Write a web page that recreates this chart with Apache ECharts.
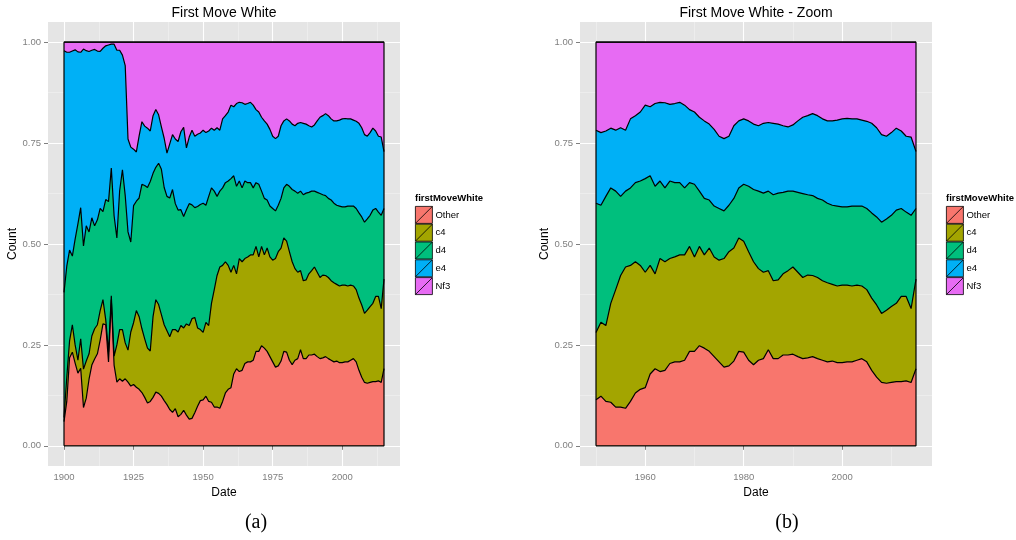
<!DOCTYPE html>
<html><head><meta charset="utf-8">
<script src="https://cdn.jsdelivr.net/npm/echarts@6/dist/echarts.min.js"></script>
<style>html,body{margin:0;padding:0;background:#fff}#c{width:1016px;height:540px}</style>
</head><body><div id="c"></div><script>
// ---- data (shares of games by White's first move; cumulative tops) ----
const firstYear = 1900;
const lastYear = 2015;
const zoomFromYear = 1950;
const categories = ['Other', 'c4', 'd4', 'e4', 'Nf3'];
const fills = ['#F8766D', '#A3A500', '#00BF7D', '#00B0F6', '#E76BF3'];

// top of "Other" band
const topOther = [
 0.060,0.110,0.218,0.232,0.205,0.180,0.192,0.095,0.118,0.165,
 0.200,0.215,0.228,0.262,0.302,0.300,0.208,0.362,0.200,0.158,
 0.166,0.160,0.166,0.158,0.148,0.152,0.145,0.140,0.132,0.120,
 0.106,0.110,0.120,0.133,0.130,0.123,0.112,0.102,0.090,0.083,
 0.092,0.072,0.078,0.088,0.076,0.066,0.068,0.082,0.098,0.112,
 0.114,0.123,0.110,0.108,0.096,0.096,0.093,0.110,0.131,0.140,
 0.144,0.178,0.191,0.184,0.187,0.204,0.208,0.208,0.212,0.234,
 0.234,0.248,0.242,0.234,0.221,0.208,0.195,0.198,0.210,0.234,
 0.232,0.212,0.201,0.212,0.216,0.238,0.216,0.216,0.225,0.225,
 0.227,0.221,0.216,0.218,0.221,0.216,0.212,0.208,0.210,0.206,
 0.206,0.208,0.208,0.212,0.216,0.208,0.187,0.170,0.157,0.155,
 0.157,0.159,0.159,0.161,0.157,0.191];
// top of "c4" band
const topC4 = [
 0.070,0.170,0.260,0.300,0.250,0.212,0.265,0.190,0.210,0.228,
 0.272,0.290,0.300,0.335,0.362,0.312,0.232,0.372,0.222,0.250,
 0.288,0.288,0.255,0.237,0.282,0.305,0.335,0.320,0.290,0.265,
 0.242,0.235,0.320,0.362,0.350,0.325,0.300,0.285,0.270,0.288,
 0.288,0.282,0.298,0.292,0.302,0.298,0.315,0.318,0.292,0.288,
 0.281,0.306,0.298,0.353,0.387,0.422,0.443,0.447,0.456,0.447,
 0.430,0.447,0.426,0.464,0.456,0.464,0.468,0.473,0.473,0.494,
 0.468,0.494,0.473,0.490,0.468,0.460,0.464,0.481,0.490,0.515,
 0.507,0.481,0.456,0.439,0.430,0.434,0.409,0.411,0.426,0.434,
 0.443,0.430,0.417,0.423,0.422,0.417,0.409,0.404,0.400,0.396,
 0.398,0.398,0.396,0.398,0.396,0.387,0.366,0.349,0.328,0.336,
 0.345,0.353,0.370,0.370,0.340,0.413];
// top of "d4" band
const topD4 = [
 0.380,0.445,0.485,0.470,0.512,0.550,0.590,0.495,0.545,0.530,
 0.565,0.545,0.560,0.588,0.580,0.610,0.605,0.688,0.570,0.515,
 0.632,0.684,0.620,0.530,0.505,0.595,0.606,0.614,0.648,0.645,
 0.640,0.655,0.675,0.690,0.700,0.685,0.640,0.618,0.614,0.635,
 0.600,0.584,0.585,0.568,0.585,0.600,0.597,0.590,0.593,0.598,
 0.601,0.596,0.618,0.639,0.631,0.618,0.631,0.639,0.652,0.656,
 0.662,0.669,0.643,0.656,0.639,0.656,0.652,0.652,0.639,0.652,
 0.648,0.631,0.613,0.609,0.594,0.588,0.582,0.596,0.613,0.639,
 0.648,0.643,0.635,0.631,0.626,0.631,0.622,0.626,0.628,0.631,
 0.631,0.628,0.625,0.622,0.620,0.613,0.609,0.601,0.596,0.594,
 0.592,0.592,0.594,0.594,0.594,0.588,0.577,0.567,0.554,0.562,
 0.571,0.584,0.588,0.579,0.571,0.588];
// top of "e4" band
const topE4 = [
 0.979,0.975,0.975,0.978,0.981,0.976,0.975,0.983,0.979,0.977,
 0.980,0.982,0.978,0.977,0.985,0.991,0.993,0.995,0.995,0.980,
 0.980,0.968,0.942,0.760,0.740,0.735,0.728,0.768,0.803,0.792,
 0.787,0.780,0.818,0.833,0.820,0.790,0.762,0.725,0.748,0.771,
 0.760,0.754,0.778,0.789,0.738,0.765,0.782,0.767,0.772,0.775,
 0.782,0.776,0.780,0.787,0.782,0.788,0.782,0.810,0.818,0.827,
 0.844,0.840,0.848,0.851,0.850,0.846,0.848,0.851,0.844,0.833,
 0.827,0.814,0.805,0.797,0.784,0.767,0.761,0.767,0.793,0.805,
 0.810,0.805,0.797,0.793,0.799,0.801,0.799,0.797,0.793,0.790,
 0.795,0.805,0.814,0.818,0.823,0.818,0.810,0.805,0.805,0.807,
 0.810,0.811,0.810,0.810,0.807,0.804,0.799,0.788,0.771,0.767,
 0.776,0.787,0.780,0.767,0.765,0.729];
// top of "Nf3" band (all games)
const topNf3 = 1;

const xTicksA = [1900, 1925, 1950, 1975, 2000];
const xMinorA = [1912.5, 1937.5, 1962.5, 1987.5, 2012.5];
const xTicksB = [1960, 1980, 2000];
const xMinorB = [1950, 1970, 1990, 2010];
const yTicks = [0, 0.25, 0.5, 0.75, 1];
const yMinor = [0.125, 0.375, 0.625, 0.875];

// ---- build ----
const years = [];
for (let y = firstYear; y <= lastYear; y++) years.push(y);
const tops = [topOther, topC4, topD4, topE4, null];
function topOf(k, i) { return k < 4 ? tops[k][i] : topNf3; }

const FONT = 'Liberation Sans, Arial, sans-serif';
const axisGrey = '#7F7F7F';
const panels = [
  { grid: { left: 48, top: 22, width: 352, height: 444 }, from: firstYear, ticks: xTicksA, minor: xMinorA },
  { grid: { left: 580, top: 22, width: 352, height: 444 }, from: zoomFromYear, ticks: xTicksB, minor: xMinorB }
];

const grid = [], xAxis = [], yAxis = [], series = [];
panels.forEach((p, g) => {
  grid.push(Object.assign({ show: true, backgroundColor: '#E5E5E5', borderWidth: 0 }, p.grid));
  const span = lastYear - p.from;
  const xmin = p.from - span * 0.05, xmax = lastYear + span * 0.05;
  xAxis.push({
    gridIndex: g, type: 'value', min: xmin, max: xmax,
    axisLine: { show: false },
    axisTick: { show: true, customValues: p.ticks, length: 4, lineStyle: { color: axisGrey, width: 1 } },
    axisLabel: { customValues: p.ticks, color: axisGrey, fontSize: 9.5, fontFamily: FONT, margin: 6,
                 formatter: v => String(v) },
    splitLine: { show: true, lineStyle: { color: '#FFFFFF', width: 1.1 } },
    name: 'Date', nameLocation: 'middle', nameGap: 17,
    nameTextStyle: { color: '#000', fontSize: 12, fontFamily: FONT, verticalAlign: 'top' }
  });
  xAxis.push({
    gridIndex: g, type: 'value', min: xmin, max: xmax, position: 'bottom',
    axisLine: { show: false }, axisLabel: { show: false },
    axisTick: { show: false, customValues: p.minor },
    splitLine: { show: true, lineStyle: { color: '#F2F2F2', width: 0.6 } }
  });
  yAxis.push({
    gridIndex: g, type: 'value', min: -0.05, max: 1.05,
    axisLine: { show: false },
    axisTick: { show: true, customValues: yTicks, length: 4, lineStyle: { color: axisGrey, width: 1 } },
    axisLabel: { customValues: yTicks, color: axisGrey, fontSize: 9.5, fontFamily: FONT, margin: 7,
                 formatter: v => v.toFixed(2) },
    splitLine: { show: true, lineStyle: { color: '#FFFFFF', width: 1.1 } },
    name: 'Count', nameLocation: 'middle', nameGap: 26, nameRotate: 90,
    nameTextStyle: { color: '#000', fontSize: 12, fontFamily: FONT }
  });
  yAxis.push({
    gridIndex: g, type: 'value', min: -0.05, max: 1.05,
    axisLine: { show: false }, axisLabel: { show: false },
    axisTick: { show: false, customValues: yMinor },
    splitLine: { show: true, lineStyle: { color: '#F2F2F2', width: 0.6 } }
  });
  const idx = years.map((y, i) => i).filter(i => years[i] >= p.from);
  // draw from the top band down so that each lower band covers the one above it
  for (let k = categories.length - 1; k >= 0; k--) {
    series.push({
      name: categories[k], type: 'line', xAxisIndex: 2 * g, yAxisIndex: 2 * g,
      data: idx.map(i => [years[i], topOf(k, i)]),
      symbol: 'none', showSymbol: false, silent: true, z: 2,
      lineStyle: { color: '#000', width: 1.2 },
      itemStyle: { color: fills[k], borderColor: '#000' },
      areaStyle: { color: fills[k], opacity: 1, origin: 'auto' },
      emphasis: { disabled: true }
    });
  }
  const x0 = years[idx[0]], x1 = years[idx[idx.length - 1]];
  series.push({
    type: 'line', xAxisIndex: 2 * g, yAxisIndex: 2 * g, silent: true, z: 3,
    data: [[x0, 0], [x1, 0], [x1, topNf3], [x0, topNf3], [x0, 0]],
    symbol: 'none', showSymbol: false,
    lineStyle: { color: '#000', width: 1.2 }
  });
});

const legendBase = {
  data: categories, orient: 'vertical', itemWidth: 17, itemHeight: 17, itemGap: 0, padding: 0,
  top: 206, icon: 'path://M0,0H10V10H0Z M0,10L10,0', selectedMode: false,
  itemStyle: { borderColor: '#000', borderWidth: 0.8 },
  lineStyle: { width: 0, opacity: 0 },
  textStyle: { color: '#000', fontSize: 9.5, fontFamily: FONT, padding: [0, 0, 0, -2] }
};

function txt(text, x, y, font, align) {
  return { type: 'text', x, y, silent: true,
    style: { text, fill: '#000', font, textAlign: align || 'center', textVerticalAlign: 'middle' } };
}

const graphic = [
  txt('First Move White', 224, 13, '14px ' + FONT),
  txt('First Move White - Zoom', 756, 13, '14px ' + FONT),
  txt('firstMoveWhite', 415, 198, 'bold 9.5px ' + FONT, 'left'),
  txt('firstMoveWhite', 946, 198, 'bold 9.5px ' + FONT, 'left'),
  txt('(a)', 256, 523, '20px Liberation Serif, DejaVu Serif, serif'),
  txt('(b)', 787, 523, '20px Liberation Serif, DejaVu Serif, serif')
];

const chart = echarts.init(document.getElementById('c'), null, { renderer: 'canvas' });
chart.setOption({
  animation: false,
  backgroundColor: '#FFFFFF',
  grid, xAxis, yAxis, series, graphic,
  legend: [
    Object.assign({}, legendBase, { left: 415 }),
    Object.assign({}, legendBase, { left: 946 })
  ]
});
</script></body></html>
